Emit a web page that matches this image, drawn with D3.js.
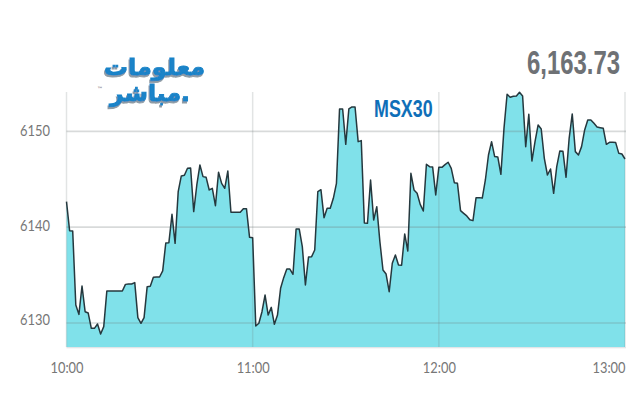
<!DOCTYPE html>
<html><head><meta charset="utf-8">
<script src="https://cdn.jsdelivr.net/npm/d3@7"></script>
<style>html,body{margin:0;padding:0;background:#fff;overflow:hidden}svg{display:block}</style>
</head><body><svg id="c" width="640" height="400"></svg>
<script>
const chartTitle = "MSX30";
const lastValue = "6,163.73";
const logoLines = ["معلومات", "مباشر."];
const yTicks = [6130, 6140, 6150];
const xTickMinutes = [0, 60, 120, 180];
const xTickLabels = ["10:00", "11:00", "12:00", "13:00"];
// one reading per minute from 10:00 to 13:00
const indexValues = [
6142.66,6139.63,6139.60,6131.88,6130.90,6133.86,6131.18,6131.04,6129.44,6129.44,
6129.90,6128.85,6129.62,6133.34,6133.34,6133.34,6133.34,6133.34,6133.34,6134.03,
6134.07,6134.07,6134.21,6130.56,6129.97,6130.56,6133.79,6133.83,6134.77,6134.80,
6134.80,6135.43,6138.35,6138.38,6141.34,6138.31,6143.70,6145.34,6145.41,6146.14,
6146.17,6141.62,6144.40,6146.49,6145.27,6145.20,6143.88,6144.05,6142.24,6145.72,
6144.57,6144.05,6145.86,6141.55,6141.55,6141.55,6141.55,6141.93,6141.93,6138.94,
6138.90,6129.69,6129.97,6131.18,6132.92,6130.83,6131.63,6129.86,6130.83,6133.62,
6134.73,6135.63,6135.63,6135.08,6139.81,6139.81,6137.97,6133.97,6136.89,6136.92,
6137.62,6143.70,6143.91,6140.99,6141.97,6141.97,6143.01,6144.57,6152.33,6152.33,
6148.64,6152.33,6152.54,6152.54,6148.92,6149.03,6140.43,6140.40,6144.92,6140.75,
6142.14,6138.49,6135.53,6135.11,6133.27,6136.23,6137.10,6136.05,6136.02,6139.29,
6137.51,6145.62,6143.88,6143.53,6142.38,6141.69,6146.56,6146.31,6146.28,6143.36,
6146.24,6146.24,6146.52,6146.77,6146.14,6144.64,6144.57,6141.72,6141.44,6141.17,
6140.78,6140.68,6143.08,6143.08,6143.04,6144.92,6147.53,6148.92,6147.36,6147.32,
6145.51,6150.31,6153.86,6153.55,6153.65,6153.69,6154.07,6153.69,6148.40,6151.77,
6146.90,6148.92,6150.66,6150.24,6147.18,6145.44,6146.07,6143.53,6146.31,6147.95,
6147.91,6145.20,6149.27,6151.81,6147.88,6147.53,6148.40,6150.14,6151.18,6151.18,
6150.83,6150.45,6150.38,6150.31,6148.64,6148.85,6148.85,6148.82,6147.70,6147.63,
6147.11];

const svg = d3.select("#c");
const x = d3.scaleLinear().domain([0, 180]).range([66.5, 625]);
const y = d3.scaleLinear().domain([6130, 6150]).range([323, 131.3]);
const floorValue = 6127.5, ceilValue = 6154.1;

const area = d3.area().x((d,i)=>x(i)).y0(y(floorValue)).y1(d=>y(d));
const line = d3.line().x((d,i)=>x(i)).y(d=>y(d));

// soft base edge under the fill
svg.append("line").attr("x1", x(0)).attr("x2", 626).attr("y1", y(floorValue)+0.8).attr("y2", y(floorValue)+0.8)
  .attr("stroke", "#d9dde0").attr("stroke-width", 1.2);

svg.append("path").datum(indexValues).attr("d", area).attr("fill", "#80e1ea");

// gridlines sit above the fill
svg.append("g").selectAll("line").data(yTicks).join("line")
  .attr("x1", x(0)).attr("x2", 626).attr("y1", d=>y(d)).attr("y2", d=>y(d))
  .attr("stroke", "rgba(110,120,120,0.27)").attr("stroke-width", 1.7);
svg.append("g").selectAll("line").data(xTickMinutes).join("line")
  .attr("x1", d=>x(d)).attr("x2", d=>x(d)).attr("y1", y(ceilValue)).attr("y2", y(floorValue))
  .attr("stroke", "rgba(110,120,120,0.2)").attr("stroke-width", 1.5);

svg.append("path").datum(indexValues).attr("d", line).attr("fill", "none")
  .attr("stroke", "#25383e").attr("stroke-width", 1.5).attr("stroke-linejoin", "round");

const labelFont = "Lato, 'Open Sans', sans-serif";
const yAxis = d3.axisLeft(y).tickValues(yTicks).tickFormat(d3.format("d")).tickSize(0).tickPadding(16.5);
svg.append("g").attr("transform", `translate(${x(0)},0)`).call(yAxis)
  .call(g=>g.select(".domain").remove())
  .selectAll("text").attr("font-family", labelFont).attr("font-weight", 400).attr("font-size", 16).attr("fill", "#777")
  .attr("y", (d,i)=>[-3.7,-1.4,-1.3][i])
  .attr("textLength", 30).attr("lengthAdjust", "spacingAndGlyphs");
const xAxis = d3.axisBottom(x).tickValues(xTickMinutes).tickFormat((d,i)=>xTickLabels[i]).tickSize(0).tickPadding(15);
svg.append("g").attr("transform", `translate(0,${y(floorValue)})`).call(xAxis)
  .call(g=>g.select(".domain").remove())
  .selectAll("text").attr("font-family", labelFont).attr("font-weight", 400).attr("font-size", 16).attr("fill", "#777")
  .attr("text-anchor", (d,i)=>i===3?"end":"middle")
  .attr("textLength", 33).attr("lengthAdjust", "spacingAndGlyphs");

const headFont = "'Liberation Sans', Arial, sans-serif";
svg.append("text").attr("transform", "translate(527,74) scale(0.725,1)").attr("font-family", headFont).attr("font-weight", 700)
  .attr("font-size", 33).attr("fill", "#6e7175").text(lastValue);
svg.append("text").attr("transform", "translate(374,116.5) scale(0.73,1)").attr("font-family", headFont).attr("font-weight", 700)
  .attr("font-size", 24.5).attr("fill", "#0f6fb8").text(chartTitle);

// logo wordmark
const defs = svg.append("defs");
defs.append("filter").attr("id", "logoShadow").attr("x", "-10%").attr("y", "-20%").attr("width", "120%").attr("height", "140%")
  .append("feDropShadow").attr("dx", -1).attr("dy", 2).attr("stdDeviation", 0.4).attr("flood-color", "#8f9ba4");
const logo = svg.append("g").attr("font-family", "'DejaVu Sans'").attr("font-weight", 700)
  .attr("font-size", 23).attr("fill", "#1a83c8").attr("stroke", "#1a83c8").attr("stroke-width", 0.9)
  .attr("filter", "url(#logoShadow)");
const logoX = [104, 110], logoY = [75, 101], logoW = [101, 80];
logoLines.forEach((t,i)=>{
  logo.append("text").attr("x", logoX[i]).attr("y", logoY[i])
    .attr("textLength", logoW[i]).attr("lengthAdjust", "spacingAndGlyphs").text(t);
});
svg.append("text").attr("x", 97).attr("y", 91).attr("font-family", "'DejaVu Sans'").attr("font-size", 6)
  .attr("fill", "#556").text("™");
</script></body></html>
